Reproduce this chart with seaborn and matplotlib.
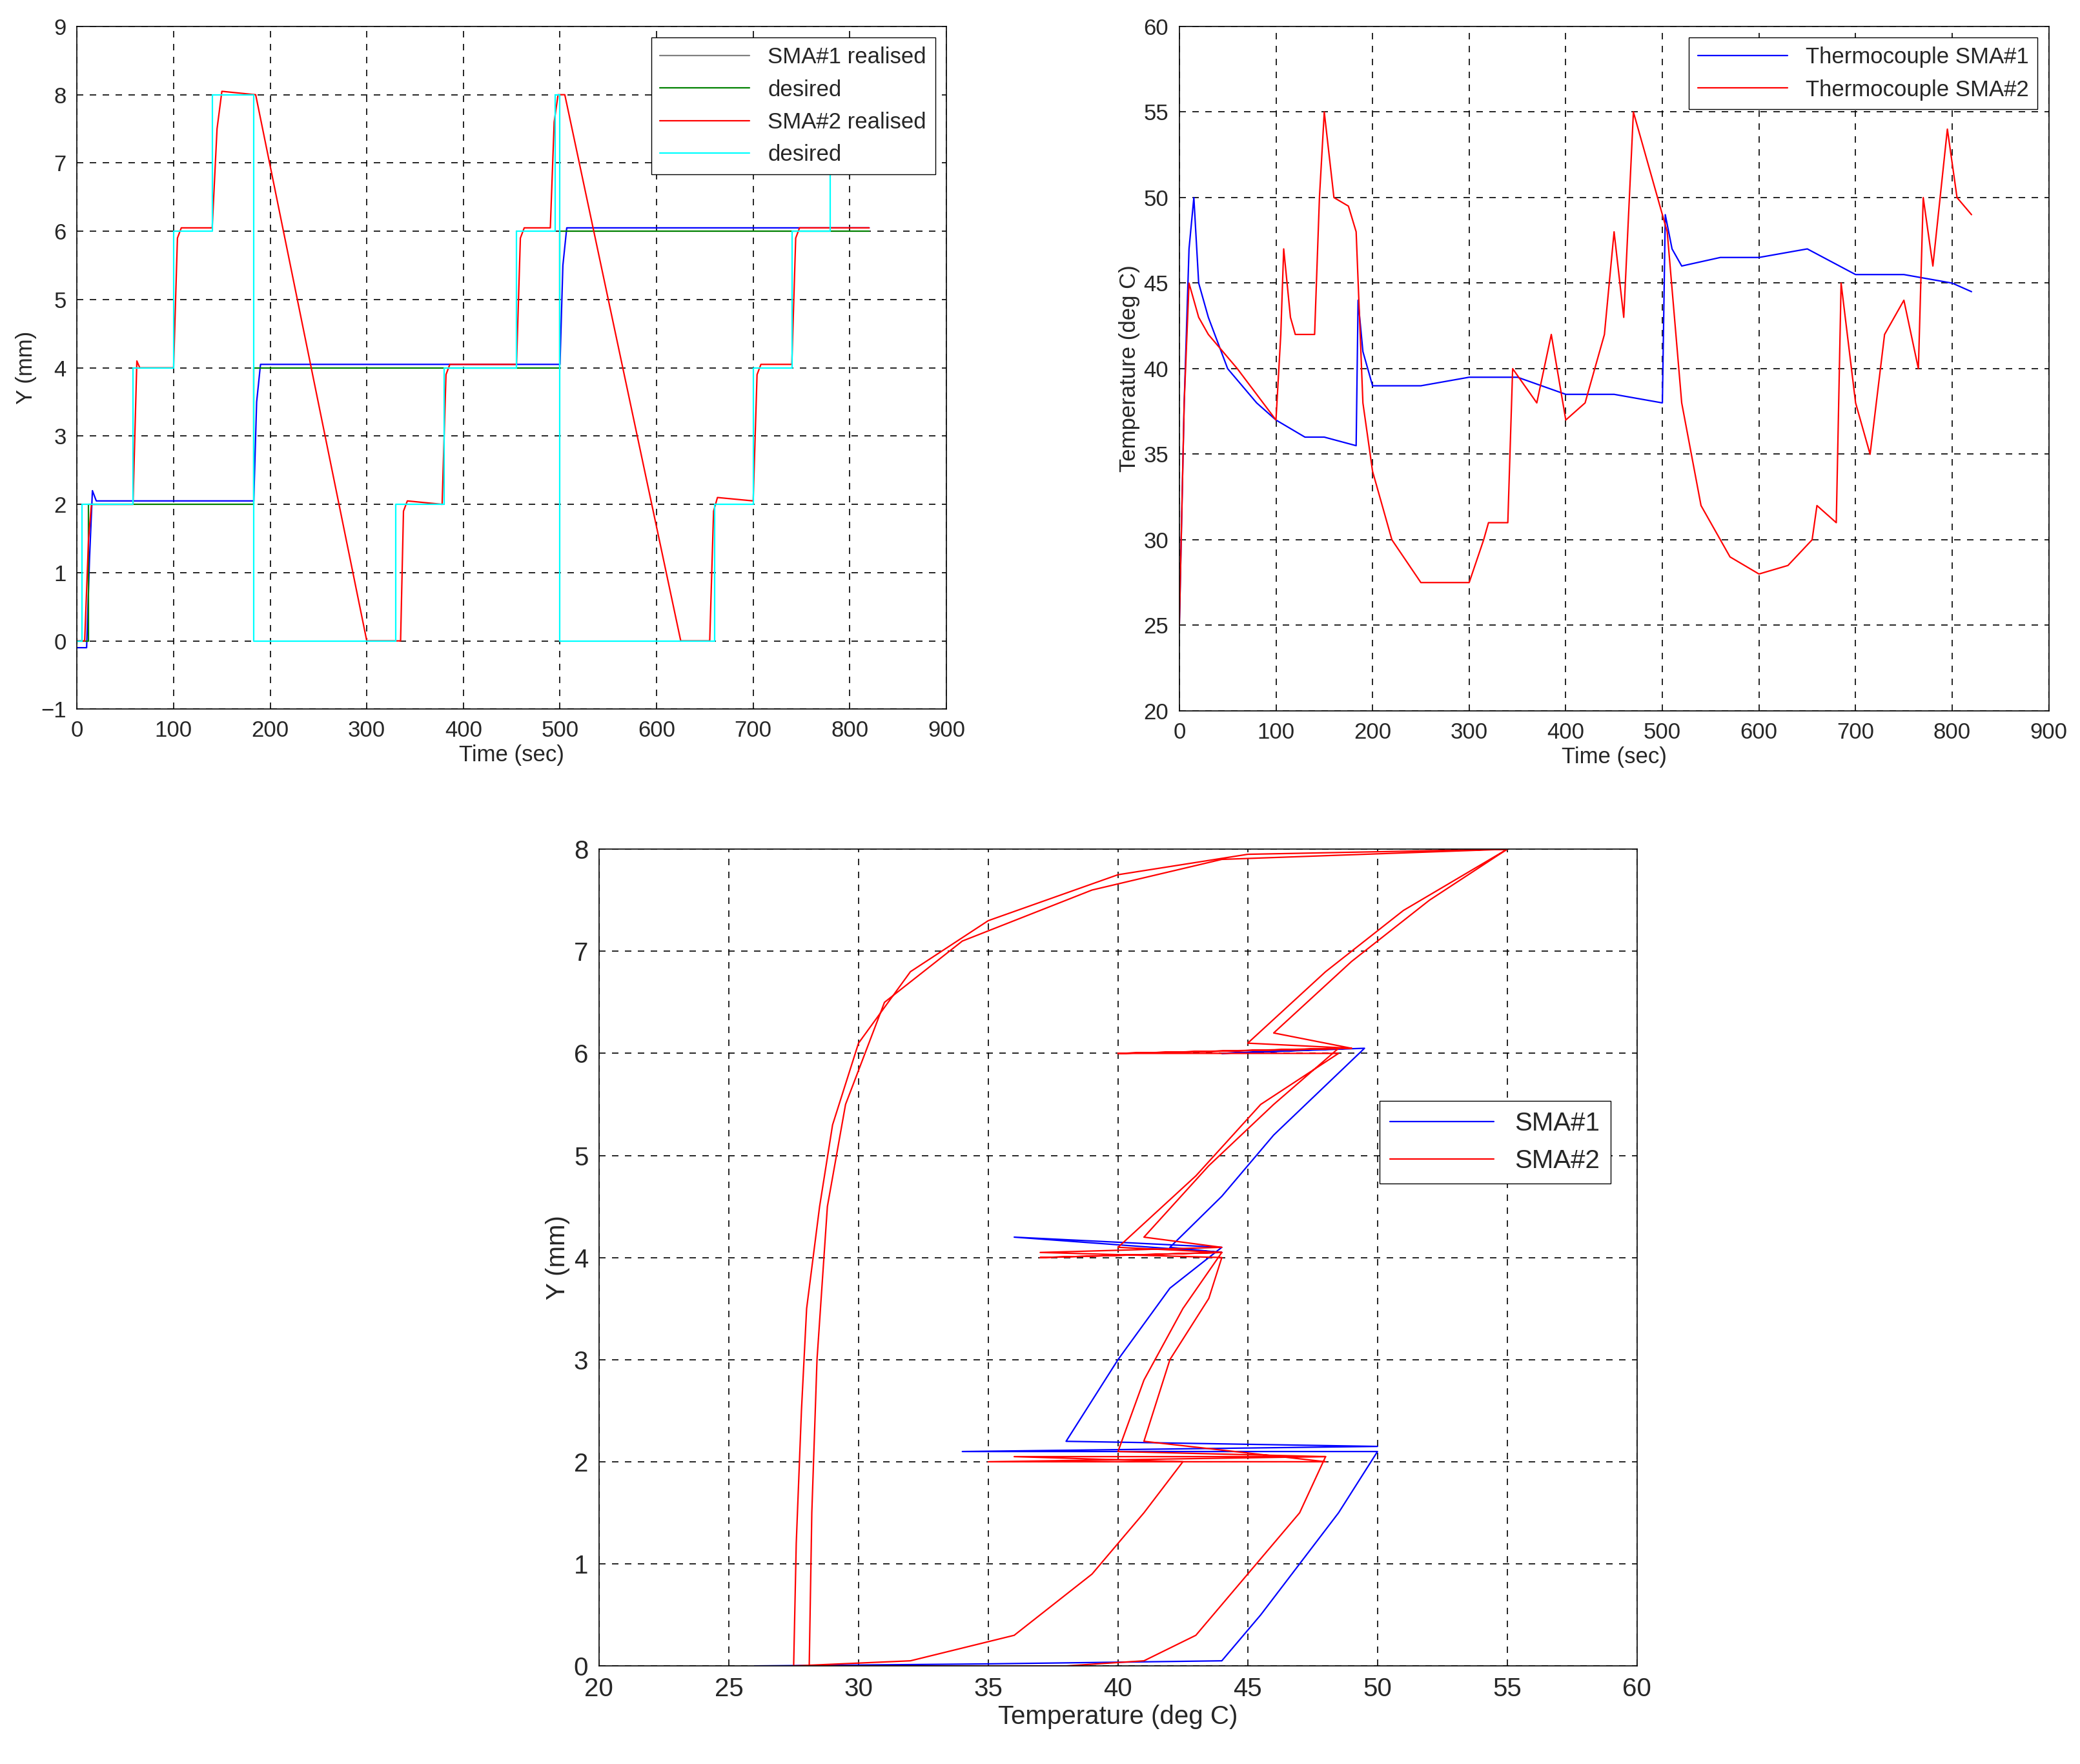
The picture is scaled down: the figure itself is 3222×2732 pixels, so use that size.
import matplotlib
matplotlib.use("Agg")
import matplotlib.pyplot as plt
import seaborn as sns

sns.set_style("white")
plt.rcParams['font.family'] = ['Liberation Sans', 'DejaVu Sans']

# ---- top-left: position vs time ----
t1_real = [0, 10, 13, 16, 20, 183, 186, 190, 500, 503, 507, 820]
y1_real = [-0.1, -0.1, 1.2, 2.2, 2.05, 2.05, 3.5, 4.05, 4.05, 5.5, 6.05, 6.05]
t1_des = [0, 12, 12, 183, 183, 500, 500, 820]
y1_des = [0, 0, 2, 2, 4, 4, 6, 6]
t2_real = [0, 8, 12, 15, 58, 62, 65, 100, 104, 108, 140, 145, 150, 185, 300, 335, 338, 342, 378, 382, 386, 455, 459, 463, 490, 494, 498, 505,
           625, 655, 659, 663, 700, 704, 708, 740, 744, 748, 820]
y2_real = [0, 0, 1.5, 2.0, 2.0, 4.1, 4.0, 4.0, 5.9, 6.05, 6.05, 7.5, 8.05, 8.0, 0.0, 0.0, 1.9, 2.05, 2.0, 3.9, 4.05, 4.05, 5.9, 6.05, 6.05, 7.6, 8.0, 8.0,
           0.0, 0.0, 1.9, 2.1, 2.05, 3.9, 4.05, 4.05, 5.9, 6.05, 6.05]
t2_des = [0, 5, 5, 58, 58, 100, 100, 140, 140, 183, 183, 330, 330, 380, 380, 455, 455, 495, 495, 500, 500, 660, 660, 700, 700, 740, 740, 780, 780, 822]
y2_des = [0, 0, 2, 2, 4, 4, 6, 6, 8, 8, 0, 0, 2, 2, 4, 4, 6, 6, 8, 8, 0, 0, 2, 2, 4, 4, 6, 6, 8, 8]

# ---- top-right: temperature vs time ----
tT1 = [0, 5, 10, 15, 20, 30, 50, 80, 100, 130, 150, 183, 185, 190, 200, 250, 300, 350, 400, 450, 500, 503, 510, 520, 560, 600, 650, 700, 750, 800, 820]
T1 = [25, 38, 47, 50, 45, 43, 40, 38, 37, 36, 36, 35.5, 44, 41, 39, 39, 39.5, 39.5, 38.5, 38.5, 38, 49, 47, 46, 46.5, 46.5, 47, 45.5, 45.5, 45, 44.5]
tT2 = [0, 5, 10, 20, 30, 60, 100, 105, 108, 115, 120, 140, 145, 150, 160, 175, 183, 190, 200, 220, 250, 300, 315, 320, 340, 345, 370, 385, 400, 420,
       440, 450, 460, 470, 490, 505, 520, 540, 570, 600, 630, 655, 660, 680, 685, 700, 715, 730, 750, 765, 770, 780, 795, 805, 820]
T2 = [25, 38, 45, 43, 42, 40, 37, 42, 47, 43, 42, 42, 50, 55, 50, 49.5, 48, 38, 34, 30, 27.5, 27.5, 30, 31, 31, 40, 38, 42, 37, 38,
      42, 48, 43, 55, 51, 48, 38, 32, 29, 28, 28.5, 30, 32, 31, 45, 38, 35, 42, 44, 40, 50, 46, 54, 50, 49]

# ---- bottom: position vs temperature ----
hx1 = [26, 35, 44, 45.5, 47, 48.5, 50, 34, 50, 38, 40, 42, 44, 36, 44, 42, 44, 46, 49.5, 44, 49]
hy1 = [0, 0.02, 0.05, 0.5, 1.0, 1.5, 2.1, 2.1, 2.15, 2.2, 3.0, 3.7, 4.1, 4.2, 4.05, 4.1, 4.6, 5.2, 6.05, 6.0, 6.05]
hx2 = [27.5, 32, 36, 39, 41, 42.5, 36, 48, 40, 41, 42.5, 44, 37, 44, 40, 43, 45.5, 48.5, 40, 49, 45, 48, 51, 55,
       45, 40, 35, 32, 30, 29, 28.5, 28, 27.8, 27.6, 27.5,
       28.1, 33, 38, 41, 43, 45, 47, 48, 35, 48, 41, 42, 43.5, 44, 37, 44, 41, 43.5, 46, 48.5, 40, 49, 46, 49, 52, 55,
       44, 39, 34, 31, 29.5, 28.8, 28.4, 28.2, 28.1]
hy2 = [0, 0.05, 0.3, 0.9, 1.5, 2.0, 2.05, 2.05, 2.1, 2.8, 3.5, 4.05, 4.0, 4.05, 4.1, 4.8, 5.5, 6.0, 6.0, 6.05, 6.1, 6.8, 7.4, 8.0,
       7.95, 7.75, 7.3, 6.8, 6.1, 5.3, 4.5, 3.5, 2.5, 1.2, 0.0,
       0.0, 0.0, 0.0, 0.05, 0.3, 0.9, 1.5, 2.05, 2.0, 2.0, 2.2, 3.0, 3.6, 4.0, 4.05, 4.1, 4.2, 4.9, 5.5, 6.05, 6.0, 6.05, 6.2, 6.9, 7.5, 8.0,
       7.9, 7.6, 7.1, 6.5, 5.5, 4.5, 3.0, 1.5, 0.0]

FS = 25
fig = plt.figure(figsize=(32.22, 27.32), dpi=100)
ax1 = fig.add_axes([0.037, 0.598, 0.418, 0.387])
ax2 = fig.add_axes([0.567, 0.597, 0.418, 0.388])
ax3 = fig.add_axes([0.288, 0.0556, 0.499, 0.463])

def line(ax, x, y, c, lab, lw=1.6):
    sns.lineplot(x=x, y=y, ax=ax, color=c, label=lab, sort=False, estimator=None, linewidth=lw)

line(ax1, t1_real, y1_real, 'blue', 'SMA#1 realised')
line(ax1, t1_des, y1_des, 'green', 'desired')
line(ax1, t2_real, y2_real, 'red', 'SMA#2 realised')
line(ax1, t2_des, y2_des, 'cyan', 'desired')
ax1.set_xlim(0, 900); ax1.set_ylim(-1, 9)
ax1.set_xticks(range(0, 901, 100)); ax1.set_yticks(range(-1, 10))
ax1.set_xlabel('Time (sec)', fontsize=FS); ax1.set_ylabel('Y (mm)', fontsize=FS)
leg = ax1.legend(loc='upper right', fontsize=FS, fancybox=False, edgecolor='black', framealpha=1, handlelength=4)
leg.get_lines()[0].set_color('gray')

line(ax2, tT1, T1, 'blue', 'Thermocouple SMA#1')
line(ax2, tT2, T2, 'red', 'Thermocouple SMA#2')
ax2.set_xlim(0, 900); ax2.set_ylim(20, 60)
ax2.set_xticks(range(0, 901, 100)); ax2.set_yticks(range(20, 61, 5))
ax2.set_xlabel('Time (sec)', fontsize=FS); ax2.set_ylabel('Temperature (deg C)', fontsize=FS)
ax2.legend(loc='upper right', fontsize=FS, fancybox=False, edgecolor='black', framealpha=1, handlelength=4)

line(ax3, hx1, hy1, 'blue', 'SMA#1')
line(ax3, hx2, hy2, 'red', 'SMA#2')
ax3.set_xlim(20, 60); ax3.set_ylim(0, 8)
ax3.set_xticks(range(20, 61, 5)); ax3.set_yticks(range(0, 9))
ax3.set_xlabel('Temperature (deg C)', fontsize=FS + 4); ax3.set_ylabel('Y (mm)', fontsize=FS + 4)
ax3.legend(loc='upper right', bbox_to_anchor=(0.987, 0.708), fontsize=FS + 4, fancybox=False, edgecolor='black', framealpha=1, handlelength=4)

for ax, fs in ((ax1, FS), (ax2, FS), (ax3, FS + 4)):
    ax.grid(True, color='black', linestyle=(0, (6, 6)), linewidth=1.2)
    ax.tick_params(labelsize=fs, direction='in', length=8, pad=12)
    for s in ax.spines.values():
        s.set_color('black'); s.set_linewidth(1.2)

fig.savefig('out.png', dpi=100)
